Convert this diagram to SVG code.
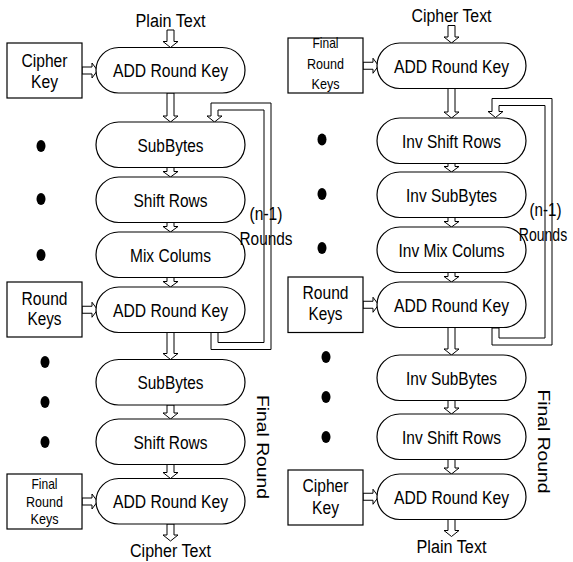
<svg xmlns="http://www.w3.org/2000/svg" xmlns:xlink="http://www.w3.org/1999/xlink" width="573" height="562" viewBox="0 0 573 562">
  <style>
    .stage { fill: #fff; stroke: #000; stroke-width: 1.2; }
    .key { fill: #fff; stroke: #000; stroke-width: 1.2; }
    .arrow { fill: #fff; stroke: #000; stroke-width: 1; stroke-linejoin: miter; }
    .dot { fill: #000; }
    text { font-family: "Liberation Sans", Arial, sans-serif; font-size: 18px; text-anchor: middle; fill: #000; }
    text.small { font-size: 15px; }
    text.side { font-size: 17px; }
  </style>
  <defs>
    <!-- hollow block arrows, drawn as outlines -->
    <polygon id="keyArrow" class="arrow" points="82,-3.5 92,-3.5 92,-7.5 97.5,0 92,7.5 92,3.5 82,3.5"/>
    <path id="loopBand" class="arrow" d="M211,332.5 V349.5 H271 V103 H211 V116 H207 L214.5,122 L222,116 H218 V110 H264 V342.5 H218 V332.5 Z"/>
    <ellipse id="dot" class="dot" rx="4.5" ry="6"/>
  </defs>
  <rect width="573" height="562" fill="#fff"/>

  <!-- ===== Encryption (left) ===== -->
  <g id="encryption">
    <g id="enc-connectors">
      <polygon class="arrow" points="167,30 167,41.5 163,41.5 170.5,47.5 178,41.5 174,41.5 174,30"/>
      <polygon class="arrow" points="167,93 167,116 163,116 170.5,122 178,116 174,116 174,93"/>
      <polygon class="arrow" points="167,167.5 167,171.5 163,171.5 170.5,177 178,171.5 174,171.5 174,167.5"/>
      <polygon class="arrow" points="167,222.5 167,226.5 163,226.5 170.5,232 178,226.5 174,226.5 174,222.5"/>
      <polygon class="arrow" points="167,277.5 167,281.5 163,281.5 170.5,287 178,281.5 174,281.5 174,277.5"/>
      <polygon class="arrow" points="167,332.5 167,353.5 163,353.5 170.5,359.5 178,353.5 174,353.5 174,332.5"/>
      <polygon class="arrow" points="167,405 167,413 163,413 170.5,419 178,413 174,413 174,405"/>
      <polygon class="arrow" points="167,464.5 167,472.5 163,472.5 170.5,478.5 178,472.5 174,472.5 174,464.5"/>
      <polygon class="arrow" points="167,524 167,535 163,535 170.5,541 178,535 174,535 174,524"/>
      <use xlink:href="#keyArrow" transform="translate(0,70.5)"/>
      <use xlink:href="#keyArrow" transform="translate(0,309.75)"/>
      <use xlink:href="#keyArrow" transform="translate(0,501.5)"/>
      <use xlink:href="#loopBand"/>
    </g>

    <g id="enc-add1"><rect class="stage" x="96" y="47.5" width="149" height="45.5" rx="22.75"/><text x="170.5" y="77" textLength="115" lengthAdjust="spacingAndGlyphs">ADD Round Key</text></g>
    <g id="enc-sub1"><rect class="stage" x="96" y="122" width="149" height="45.5" rx="22.75"/><text x="170.5" y="151.5" textLength="66" lengthAdjust="spacingAndGlyphs">SubBytes</text></g>
    <g id="enc-shift1"><rect class="stage" x="96" y="177" width="149" height="45.5" rx="22.75"/><text x="170.5" y="206.5" textLength="74" lengthAdjust="spacingAndGlyphs">Shift Rows</text></g>
    <g id="enc-mix"><rect class="stage" x="96" y="232" width="149" height="45.5" rx="22.75"/><text x="170.5" y="261.5" textLength="81" lengthAdjust="spacingAndGlyphs">Mix Colums</text></g>
    <g id="enc-add2"><rect class="stage" x="96" y="287" width="149" height="45.5" rx="22.75"/><text x="170.5" y="316.5" textLength="115" lengthAdjust="spacingAndGlyphs">ADD Round Key</text></g>
    <g id="enc-sub2"><rect class="stage" x="96" y="359.5" width="149" height="45.5" rx="22.75"/><text x="170.5" y="389" textLength="66" lengthAdjust="spacingAndGlyphs">SubBytes</text></g>
    <g id="enc-shift2"><rect class="stage" x="96" y="419" width="149" height="45.5" rx="22.75"/><text x="170.5" y="448.5" textLength="74" lengthAdjust="spacingAndGlyphs">Shift Rows</text></g>
    <g id="enc-add3"><rect class="stage" x="96" y="478.5" width="149" height="45.5" rx="22.75"/><text x="170.5" y="508" textLength="115" lengthAdjust="spacingAndGlyphs">ADD Round Key</text></g>

    <g id="enc-cipherkey"><rect class="key" x="7" y="43" width="75" height="55"/><text x="44.5" y="66.5" textLength="46" lengthAdjust="spacingAndGlyphs">Cipher</text><text x="44.5" y="88" textLength="27" lengthAdjust="spacingAndGlyphs">Key</text></g>
    <g id="enc-roundkeys"><rect class="key" x="7" y="282" width="75" height="55"/><text x="44.5" y="305" textLength="46" lengthAdjust="spacingAndGlyphs">Round</text><text x="44.5" y="325" textLength="34" lengthAdjust="spacingAndGlyphs">Keys</text></g>
    <g id="enc-finalkeys"><rect class="key" x="7" y="474" width="75" height="55"/><text class="small" x="44.5" y="489" textLength="26" lengthAdjust="spacingAndGlyphs">Final</text><text class="small" x="44.5" y="507" textLength="37" lengthAdjust="spacingAndGlyphs">Round</text><text class="small" x="44.5" y="524" textLength="28" lengthAdjust="spacingAndGlyphs">Keys</text></g>

    <g id="enc-dots">
      <use xlink:href="#dot" x="41" y="146"/><use xlink:href="#dot" x="41" y="199"/><use xlink:href="#dot" x="41" y="255"/>
      <use xlink:href="#dot" x="45" y="362"/><use xlink:href="#dot" x="45" y="402"/><use xlink:href="#dot" x="45" y="442"/>
    </g>

    <g id="enc-labels">
      <text x="170.5" y="27" textLength="70" lengthAdjust="spacingAndGlyphs">Plain Text</text>
      <text x="170.5" y="557" textLength="81" lengthAdjust="spacingAndGlyphs">Cipher Text</text>
      <text x="266" y="220" textLength="33" lengthAdjust="spacingAndGlyphs">(n-1)</text>
      <text x="266" y="245" textLength="53" lengthAdjust="spacingAndGlyphs">Rounds</text>
      <text class="side" transform="translate(257,447) rotate(90)" textLength="104" lengthAdjust="spacingAndGlyphs">Final Round</text>
    </g>
  </g>

  <!-- ===== Decryption (right) ===== -->
  <g id="decryption" transform="translate(281,-4.5)">
    <g id="dec-connectors">
      <polygon class="arrow" points="167,30 167,41.5 163,41.5 170.5,47.5 178,41.5 174,41.5 174,30"/>
      <polygon class="arrow" points="167,93 167,116.5 163,116.5 170.5,122.5 178,116.5 174,116.5 174,93"/>
      <polygon class="arrow" points="167,168 167,171 163,171 170.5,176.5 178,171 174,171 174,168"/>
      <polygon class="arrow" points="167,222 167,226 163,226 170.5,231.5 178,226 174,226 174,222"/>
      <polygon class="arrow" points="167,277 167,281 163,281 170.5,286.5 178,281 174,281 174,277"/>
      <polygon class="arrow" points="167,332 167,353.5 163,353.5 170.5,359.5 178,353.5 174,353.5 174,332"/>
      <polygon class="arrow" points="167,405 167,412.5 163,412.5 170.5,418.5 178,412.5 174,412.5 174,405"/>
      <polygon class="arrow" points="167,464 167,472.5 163,472.5 170.5,478.5 178,472.5 174,472.5 174,464"/>
      <polygon class="arrow" points="167,524 167,535 163,535 170.5,541 178,535 174,535 174,524"/>
      <use xlink:href="#keyArrow" transform="translate(0,70.25)"/>
      <use xlink:href="#keyArrow" transform="translate(0,309.25)"/>
      <use xlink:href="#keyArrow" transform="translate(0,501.25)"/>
      <use xlink:href="#loopBand"/>
    </g>

    <g id="dec-add1"><rect class="stage" x="96" y="47.5" width="149" height="45.5" rx="22.75"/><text x="170.5" y="77" textLength="115" lengthAdjust="spacingAndGlyphs">ADD Round Key</text></g>
    <g id="dec-ishift1"><rect class="stage" x="96" y="122.5" width="149" height="45.5" rx="22.75"/><text x="170.5" y="152" textLength="99" lengthAdjust="spacingAndGlyphs">Inv Shift Rows</text></g>
    <g id="dec-isub1"><rect class="stage" x="96" y="176.5" width="149" height="45.5" rx="22.75"/><text x="170.5" y="206" textLength="91" lengthAdjust="spacingAndGlyphs">Inv SubBytes</text></g>
    <g id="dec-imix"><rect class="stage" x="96" y="231.5" width="149" height="45.5" rx="22.75"/><text x="170.5" y="261" textLength="106" lengthAdjust="spacingAndGlyphs">Inv Mix Colums</text></g>
    <g id="dec-add2"><rect class="stage" x="96" y="286.5" width="149" height="45.5" rx="22.75"/><text x="170.5" y="316" textLength="115" lengthAdjust="spacingAndGlyphs">ADD Round Key</text></g>
    <g id="dec-isub2"><rect class="stage" x="96" y="359.5" width="149" height="45.5" rx="22.75"/><text x="170.5" y="389" textLength="91" lengthAdjust="spacingAndGlyphs">Inv SubBytes</text></g>
    <g id="dec-ishift2"><rect class="stage" x="96" y="418.5" width="149" height="45.5" rx="22.75"/><text x="170.5" y="448" textLength="99" lengthAdjust="spacingAndGlyphs">Inv Shift Rows</text></g>
    <g id="dec-add3"><rect class="stage" x="96" y="478.5" width="149" height="45.5" rx="22.75"/><text x="170.5" y="508" textLength="115" lengthAdjust="spacingAndGlyphs">ADD Round Key</text></g>

    <g id="dec-finalkeys"><rect class="key" x="7" y="42.5" width="75" height="55"/><text class="small" x="44.5" y="52.5" textLength="26" lengthAdjust="spacingAndGlyphs">Final</text><text class="small" x="44.5" y="73.5" textLength="37" lengthAdjust="spacingAndGlyphs">Round</text><text class="small" x="44.5" y="93.5" textLength="28" lengthAdjust="spacingAndGlyphs">Keys</text></g>
    <g id="dec-roundkeys"><rect class="key" x="7" y="281.5" width="75" height="55.5"/><text x="44.5" y="303" textLength="46" lengthAdjust="spacingAndGlyphs">Round</text><text x="44.5" y="324.5" textLength="34" lengthAdjust="spacingAndGlyphs">Keys</text></g>
    <g id="dec-cipherkey"><rect class="key" x="7" y="474.5" width="75" height="55"/><text x="44.5" y="496.5" textLength="46" lengthAdjust="spacingAndGlyphs">Cipher</text><text x="44.5" y="518" textLength="27" lengthAdjust="spacingAndGlyphs">Key</text></g>

    <g id="dec-dots">
      <use xlink:href="#dot" x="41" y="144"/><use xlink:href="#dot" x="41" y="198.5"/><use xlink:href="#dot" x="41" y="252.5"/>
      <use xlink:href="#dot" x="45" y="361.5"/><use xlink:href="#dot" x="45" y="401.5"/><use xlink:href="#dot" x="45" y="441.5"/>
    </g>

    <g id="dec-labels">
      <text x="170.5" y="26.5" textLength="80" lengthAdjust="spacingAndGlyphs">Cipher Text</text>
      <text x="170.5" y="557.5" textLength="70" lengthAdjust="spacingAndGlyphs">Plain Text</text>
      <text x="264.5" y="220" textLength="32" lengthAdjust="spacingAndGlyphs">(n-1)</text>
      <!-- narrowed with a horizontal scale so it stays inside the right edge -->
      <text transform="translate(262,245) scale(0.78,1)">Rounds</text>
      <text class="side" transform="translate(257,446) rotate(90)" textLength="104" lengthAdjust="spacingAndGlyphs">Final Round</text>
    </g>
  </g>
</svg>
